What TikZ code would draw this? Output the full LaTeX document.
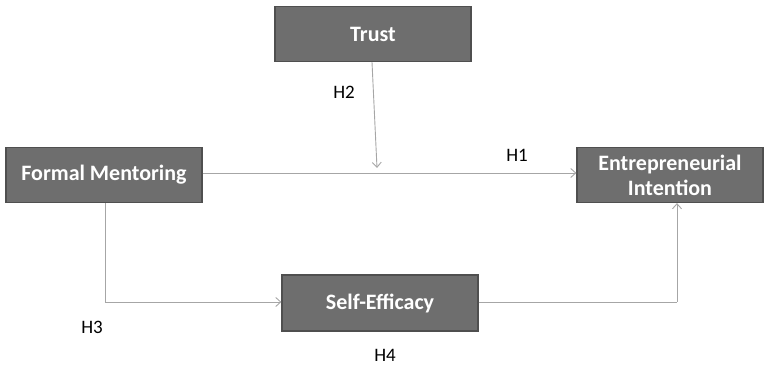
\documentclass[tikz,border=0pt]{standalone}
\usepackage{fontspec}
\setmainfont{Carlito}
\usetikzlibrary{arrows.meta}
\definecolor{boxfill}{HTML}{6E6E6E}
\definecolor{boxline}{HTML}{4F4F4F}
\definecolor{conn}{HTML}{A6A6A6}
\begin{document}
\begin{tikzpicture}[x=1pt,y=-1pt,
  blk/.style={draw=boxline,line width=1.2pt,fill=boxfill,text=white,font=\fontsize{22}{25}\selectfont\bfseries,align=center,inner sep=0pt},
  lbl/.style={font=\fontsize{19}{22}\selectfont,text=black},
  conn/.style={draw=conn,line width=0.9pt},
  arr/.style={conn,-{Straight Barb[length=5pt,width=9pt,line width=0.9pt]}}]
\useasboundingbox (0,0) rectangle (769,371);
\node[blk,minimum width=196pt,minimum height=55pt] (trust) at (373,34) {Trust};
\node[blk,minimum width=196pt,minimum height=55pt] (fm) at (104,175) {Formal Mentoring};
\node[blk,minimum width=186pt,minimum height=55pt] (ei) at (670,175) {Entrepreneurial\\Intention};
\node[blk,minimum width=196pt,minimum height=56pt] (se) at (380,303) {Self-Efficacy};
\coordinate (mid) at (377,168);
\coordinate (c1) at (105,302);
\coordinate (c2) at (677,302);
\draw[arr] (fm.east |- 0,173) -- (ei.west |- 0,173);
\draw[arr] (trust.south -| 372,0) -- (mid);
\draw[conn] (fm.south -| c1) -- (c1);
\draw[arr] (c1) -- (se.west |- c1);
\draw[conn] (se.east |- c2) -- (c2);
\draw[arr] (c2) -- (ei.south -| c2);
\node[lbl] (h1) at (517,155) {H1};
\node[lbl] (h2) at (344,92) {H2};
\node[lbl] (h3) at (92,327) {H3};
\node[lbl] (h4) at (385,355) {H4};
\end{tikzpicture}
\end{document}
